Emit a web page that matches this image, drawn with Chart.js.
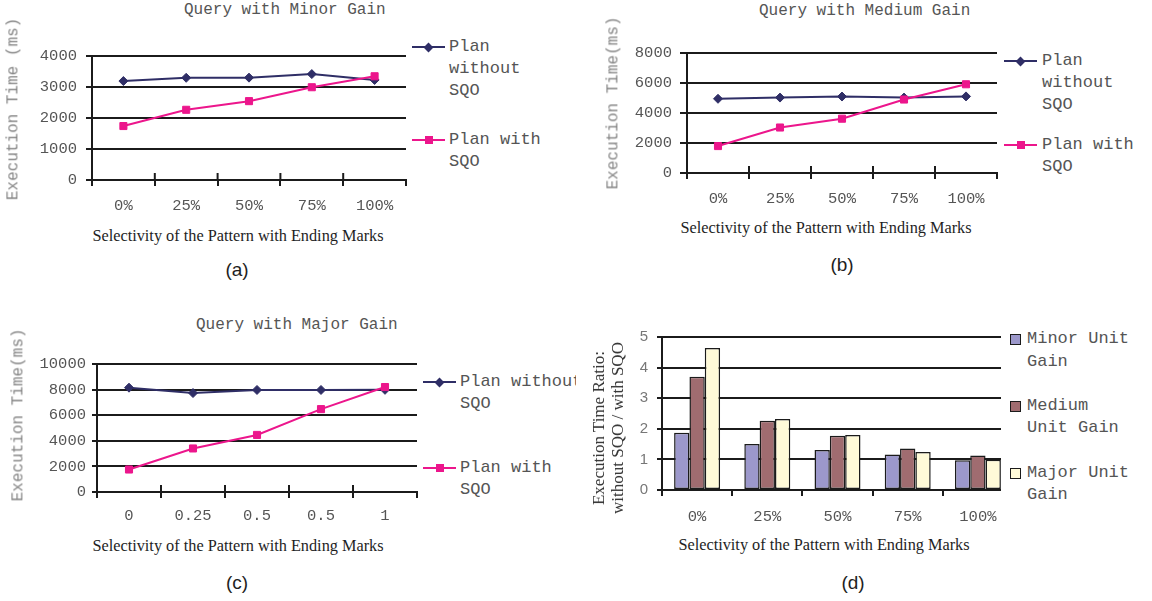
<!DOCTYPE html>
<html>
<head>
<meta charset="utf-8">
<title>SQO execution time</title>
<script src="https://cdn.jsdelivr.net/npm/chart.js@4.4.1/dist/chart.umd.min.js"></script>
<style>
  html, body { margin: 0; padding: 0; background: #fff; }
  body { width: 1152px; height: 601px; position: relative; overflow: hidden; }
  .panel { position: absolute; overflow: hidden; }
  .abs { position: absolute; white-space: nowrap; line-height: 1.2; }
  .mono { font-family: "Liberation Mono", "Courier New", monospace; }
  .serif { font-family: "Liberation Serif", "Times New Roman", serif; }
  .sans { font-family: "Liberation Sans", Arial, sans-serif; }
  .title { font-size: 16px; color: #555; }
  .ytitle { font-size: 16px; color: #858585; }
  .xtitle { font-size: 16.3px; color: #1e1e1e; }
  .caption { font-size: 19px; color: #1e1e1e; }
  .legend-text { position: absolute; font-size: 17px; line-height: 22.3px; color: #555; white-space: normal; }
</style>
</head>
<body>
<div class="panel" id="pa" style="left:0;top:0;width:576px;height:300px"></div>
<div class="panel" id="pb" style="left:576px;top:0;width:576px;height:300px"></div>
<div class="panel" id="pc" style="left:0;top:300px;width:576px;height:301px"></div>
<div class="panel" id="pd" style="left:576px;top:300px;width:576px;height:301px"></div>
<script>
// x categories
const pctLabels = ['0%', '25%', '50%', '75%', '100%'];
const fracLabels = ['0', '0.25', '0.5', '0.5', '1'];   // printed this way in (c)

// (a) Query with Minor Gain, execution time in ms
const minorWithout = [3200, 3305, 3310, 3425, 3235];
const minorWith = [1745, 2270, 2550, 3000, 3355];

// (b) Query with Medium Gain
const mediumWithout = [4960, 5040, 5110, 5040, 5120];
const mediumWith = [1800, 3040, 3630, 4910, 5930];

// (c) Query with Major Gain
const majorWithout = [8170, 7750, 7990, 7990, 8000];
const majorWith = [1760, 3410, 4470, 6490, 8220];

// (d) execution time ratio: without SQO / with SQO
const ratioMinor = [1.87, 1.50, 1.31, 1.16, 0.97];
const ratioMedium = [3.70, 2.26, 1.77, 1.36, 1.13];
const ratioMajor = [4.64, 2.32, 1.80, 1.24, 0.99];

const NAVY = '#2f2e66';
const PINK = '#ec168c';
const INK = '#1b1b1b';
const TICK = '#555';
const MONO = '"Liberation Mono", "Courier New", monospace';
const SANS = '"Liberation Sans", Arial, sans-serif';

const panels = {
  a: { el: document.getElementById('pa'), x: 0, y: 0 },
  b: { el: document.getElementById('pb'), x: 576, y: 0 },
  c: { el: document.getElementById('pc'), x: 0, y: 300 },
  d: { el: document.getElementById('pd'), x: 576, y: 300 },
};

function put(panel, el, x, y) {
  el.style.left = (x - panel.x) + 'px';
  el.style.top = (y - panel.y) + 'px';
  panel.el.appendChild(el);
}

function text(panel, str, x, y, cls, mode) {
  const d = document.createElement('div');
  d.className = 'abs ' + cls;
  d.innerHTML = str;
  if (mode === 'left') d.style.transform = 'translateY(-50%)';
  else if (mode === 'vert') d.style.transform = 'translate(-50%,-50%) rotate(-90deg)';
  else d.style.transform = 'translate(-50%,-50%)';
  put(panel, d, x, y);
  return d;
}

// canvas whose chart area lands on plot {l,t,r,b}
function chartCanvas(panel, plot, clipRight) {
  const w = plot.r - plot.l + 86, h = plot.b - plot.t + 54;
  const c = document.createElement('canvas');
  c.width = w; c.height = h;
  c.style.width = w + 'px'; c.style.height = h + 'px';
  const wrap = document.createElement('div');
  wrap.className = 'abs';
  wrap.style.overflow = 'hidden';
  wrap.style.width = (clipRight ? clipRight - (plot.l - 80) : w) + 'px';
  wrap.style.height = h + 'px';
  wrap.appendChild(c);
  put(panel, wrap, plot.l - 80, plot.t - 14);
  return c;
}

// the line charts have category ticks that also poke up into the plot
const crossTicks = {
  id: 'crossTicks',
  beforeDatasetsDraw(chart) {
    const x = chart.scales.x, ctx = chart.ctx, b = chart.chartArea.bottom;
    ctx.save();
    ctx.strokeStyle = INK;
    ctx.lineWidth = 2;
    for (let i = 1; i < x.ticks.length; i++) {
      const px = (x.getPixelForTick(i - 1) + x.getPixelForTick(i)) / 2;
      ctx.beginPath();
      ctx.moveTo(px, b);
      ctx.lineTo(px, b - 7);
      ctx.stroke();
    }
    ctx.restore();
  }
};

function scales(yMax, yStep, g) {
  return {
    x: {
      offset: true,
      grid: { offset: true, drawOnChartArea: false, tickLength: 6, color: INK, lineWidth: 2 },
      border: { color: INK, width: 2 },
      ticks: { font: { family: MONO, size: 15.5 }, color: TICK, padding: g.xPad, maxRotation: 0, autoSkip: false },
      afterFit: s => { s.height = 40; }
    },
    y: {
      min: 0, max: yMax,
      grid: { color: INK, lineWidth: 2, tickLength: g.tick },
      border: { color: INK, width: 2 },
      ticks: { stepSize: yStep, font: g.yFont || { family: MONO, size: 15.5 }, color: g.yColor || TICK,
        padding: g.yPad, callback: v => String(v) },
      afterFit: s => { s.width = 80; }
    }
  };
}

function lineChart(canvas, labels, without, withSqo, yMax, yStep, g) {
  return new Chart(canvas, {
    type: 'line',
    data: {
      labels: labels,
      datasets: [
        { label: 'Plan without SQO', data: without, borderColor: NAVY, backgroundColor: NAVY,
          borderWidth: 2, pointStyle: 'rectRot', pointRadius: 4.5, pointBorderWidth: 1, order: 1 },
        { label: 'Plan with SQO', data: withSqo, borderColor: PINK, backgroundColor: PINK,
          borderWidth: 2, pointStyle: 'rect', pointRadius: 5, pointBorderWidth: 1, order: 0 }
      ]
    },
    options: {
      responsive: false, animation: false,
      layout: { padding: { top: 14, right: 6, left: 0, bottom: 0 } },
      plugins: { legend: { display: false }, tooltip: { enabled: false } },
      scales: scales(yMax, yStep, g)
    },
    plugins: [crossTicks]
  });
}

// legend built from the chart's datasets
function lineLegend(panel, chart, cfg) {
  chart.data.datasets.forEach((ds, i) => {
    const cy = cfg.tops[i];
    const ln = document.createElement('div');
    ln.className = 'abs';
    ln.style.width = '33px'; ln.style.height = '2px'; ln.style.background = ds.borderColor;
    put(panel, ln, cfg.lineX, cy - 1);
    const mk = document.createElement('div');
    mk.className = 'abs';
    mk.style.background = ds.borderColor;
    if (ds.pointStyle === 'rectRot') {
      mk.style.width = '7px'; mk.style.height = '7px'; mk.style.transform = 'rotate(45deg)';
      put(panel, mk, cfg.lineX + 13, cy - 3.5);
    } else {
      mk.style.width = '8px'; mk.style.height = '8px';
      put(panel, mk, cfg.lineX + 12.5, cy - 4);
    }
    const t = document.createElement('div');
    t.className = 'legend-text mono';
    t.style.width = cfg.width + 'px';
    t.textContent = ds.label;
    put(panel, t, cfg.textX, cy - 11.15);
  });
}

// (a)
const pa = panels.a;
const chartA = lineChart(chartCanvas(pa, { l: 92, t: 52, r: 406, b: 180 }),
  pctLabels, minorWithout, minorWith, 4000, 1000, { xPad: 11, yPad: 9, tick: 6 });
text(pa, 'Query with Minor Gain', 184, 10.5, 'mono title', 'left');
text(pa, 'Execution Time (ms)', 14, 109, 'mono ytitle', 'vert');
text(pa, 'Selectivity of the Pattern with Ending Marks', 238, 236, 'serif xtitle');
text(pa, '(a)', 237, 270, 'sans caption');
lineLegend(pa, chartA, { lineX: 412, textX: 449, tops: [47, 140], width: 100 });

// (b)
const pb = panels.b;
const chartB = lineChart(chartCanvas(pb, { l: 687, t: 50, r: 997, b: 173 }),
  pctLabels, mediumWithout, mediumWith, 8000, 2000, { xPad: 11, yPad: 8, tick: 7 });
text(pb, 'Query with Medium Gain', 759, 12, 'mono title', 'left');
text(pb, 'Execution Time(ms)', 614, 102.5, 'mono ytitle', 'vert');
text(pb, 'Selectivity of the Pattern with Ending Marks', 826, 228, 'serif xtitle');
text(pb, '(b)', 842, 265, 'sans caption');
lineLegend(pb, chartB, { lineX: 1004, textX: 1042, tops: [61, 145], width: 100 });

// (c)
const pc = panels.c;
const chartC = lineChart(chartCanvas(pc, { l: 97, t: 363, r: 417, b: 492 }),
  fracLabels, majorWithout, majorWith, 10000, 2000, { xPad: 9, yPad: 6, tick: 5 });
text(pc, 'Query with Major Gain', 196, 325.5, 'mono title', 'left');
text(pc, 'Execution Time(ms)', 18.5, 414.5, 'mono ytitle', 'vert');
text(pc, 'Selectivity of the Pattern with Ending Marks', 238, 546, 'serif xtitle');
text(pc, '(c)', 237, 583, 'sans caption');
lineLegend(pc, chartC, { lineX: 423, textX: 460, tops: [382, 468], width: 128 });

// (d)
const pd = panels.d;
const chartD = new Chart(chartCanvas(pd, { l: 662, t: 333, r: 1013, b: 490 }, 1001), {
  type: 'bar',
  data: {
    labels: pctLabels,
    datasets: [
      { label: 'Minor Unit Gain', data: ratioMinor, backgroundColor: '#9c98cb' },
      { label: 'Medium Unit Gain', data: ratioMedium, backgroundColor: '#a06c70' },
      { label: 'Major Unit Gain', data: ratioMajor, backgroundColor: '#fffad8' }
    ]
  },
  options: {
    responsive: false, animation: false,
    layout: { padding: { top: 14, right: 6, left: 0, bottom: 0 } },
    datasets: { bar: { borderColor: INK, borderWidth: 1.5, borderSkipped: false,
      barPercentage: 1, categoryPercentage: 0.655 } },
    plugins: { legend: { display: false }, tooltip: { enabled: false } },
    scales: scales(5, 1, { xPad: 12, yPad: 9, tick: 5,
      yFont: { family: SANS, size: 15 }, yColor: '#777' })
  }
});
text(pd, 'Execution Time Ratio:<br>without SQO / with SQO', 607.5, 428,
  'serif', 'vert').style.cssText += 'font-size:17px;line-height:19px;text-align:center;color:#333;';
text(pd, 'Selectivity of the Pattern with Ending Marks', 824, 545, 'serif xtitle');
text(pd, '(d)', 853, 583, 'sans caption');

chartD.data.datasets.forEach((ds, i) => {
  const cy = [339.5, 406, 473][i];
  const box = document.createElement('div');
  box.className = 'abs';
  box.style.cssText += 'width:11px;height:11px;box-sizing:border-box;border:1.5px solid ' + INK + ';background:' + ds.backgroundColor;
  put(pd, box, 1010, cy - 5.5);
  const t = document.createElement('div');
  t.className = 'legend-text mono';
  t.style.width = '106px';
  t.textContent = ds.label;
  put(pd, t, 1027, cy - 11.15);
});
</script>
</body>
</html>
